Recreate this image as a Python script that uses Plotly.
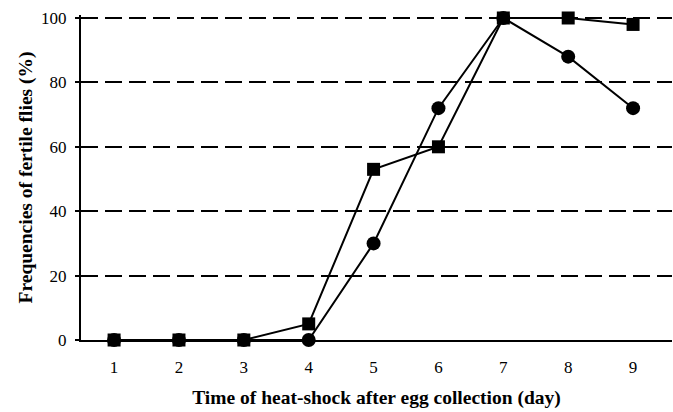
import plotly.graph_objects as go

days = [1, 2, 3, 4, 5, 6, 7, 8, 9]
squares = [0, 0, 0, 5, 53, 60, 100, 100, 98]
circles = [0, 0, 0, 0, 30, 72, 100, 88, 72]
y_ticks = [0, 20, 40, 60, 80, 100]

font_family = "Liberation Serif"

fig = go.Figure()
fig.add_trace(go.Scatter(
    x=days, y=squares, mode="lines+markers",
    line=dict(color="black", width=2),
    marker=dict(symbol="square", size=13, color="black"),
    cliponaxis=False, showlegend=False,
))
fig.add_trace(go.Scatter(
    x=days, y=circles, mode="lines+markers",
    line=dict(color="black", width=2),
    marker=dict(symbol="circle", size=14, color="black"),
    cliponaxis=False, showlegend=False,
))

fig.update_layout(
    width=673, height=412,
    margin=dict(l=81, r=1, t=15, b=72),
    paper_bgcolor="white", plot_bgcolor="white",
    font=dict(family=font_family, size=17, color="black"),
    xaxis=dict(
        range=[0.49, 9.6],
        tickvals=days,
        ticks="", showgrid=False, zeroline=False,
        showline=True, linecolor="black", linewidth=2,
        ticklabelstandoff=11,
        automargin=False,
        title=dict(text="<b>Time of heat-shock after egg collection (day)</b>",
                   font=dict(size=19.5), standoff=14),
    ),
    yaxis=dict(
        range=[0, 100.93],
        tickvals=y_ticks,
        ticks="outside", ticklen=4, tickwidth=2, tickcolor="black",
        showgrid=True, gridcolor="black", gridwidth=2, griddash="17px,7px",
        zeroline=False,
        showline=True, linecolor="black", linewidth=2,
        ticklabelstandoff=5,
        automargin=False,
        title=dict(text="<b>Frequencies of fertile flies (%)</b>",
                   font=dict(size=19.5), standoff=3),
    ),
)

fig.write_html(
    "out.html",
    config={"displayModeBar": False},
    post_script="document.body.style.margin='0';document.body.style.overflow='hidden';",
)
